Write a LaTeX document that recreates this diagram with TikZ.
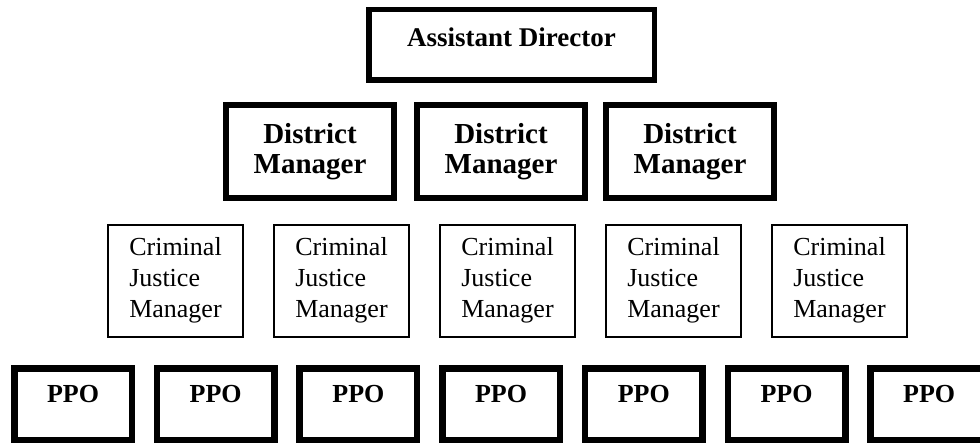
\documentclass[tikz,border=0pt]{standalone}
\usepackage{fontspec}
\setmainfont{Liberation Serif}
\begin{document}
\begin{tikzpicture}[x=1pt,y=-1pt,
  box/.style={draw=black, rectangle, inner sep=0pt, fill=white},
  headbox/.style={box, line width=5.5pt, minimum width=285.5pt, minimum height=70.5pt,
    font=\bfseries\fontsize{27}{32}\selectfont, text height=37.25pt, text depth=33.25pt},
  districtbox/.style={box, line width=6pt, minimum width=168pt, minimum height=93pt,
    align=center, font=\bfseries\fontsize{29}{30}\selectfont},
  cjmbox/.style={box, line width=2pt, minimum width=134.5pt, minimum height=112pt,
    align=left, font=\fontsize{26}{31}\selectfont},
  ppobox/.style={box, line width=6.5pt, minimum width=117.5pt, minimum height=71.5pt,
    font=\bfseries\fontsize{26}{31}\selectfont, text height=33.75pt, text depth=37.75pt}
]
\useasboundingbox (0,0) rectangle (980,444);
\clip (0,0) rectangle (980,444);
\fill[white] (0,0) rectangle (980,444);

% top level
\node[headbox] (ad) at (511.5,45) {Assistant Director};

% district managers
\node[districtbox] (dm1) at (310,151.5) {District\\Manager};
\node[districtbox] (dm2) at (501,151.5) {District\\Manager};
\node[districtbox] (dm3) at (690,151.5) {District\\Manager};

% criminal justice managers
\foreach \i/\cx in {1/175.5, 2/341.5, 3/507.5, 4/673.5, 5/839.5}
  \node[cjmbox] (cjm\i) at (\cx,280.5) {Criminal\\Justice\\Manager};

% probation officers
\foreach \i/\cx in {1/73, 2/215.7, 3/358.4, 4/501.1, 5/643.8, 6/786.5, 7/929.2}
  \node[ppobox] (ppo\i) at (\cx,404) {PPO};
\end{tikzpicture}
\end{document}
